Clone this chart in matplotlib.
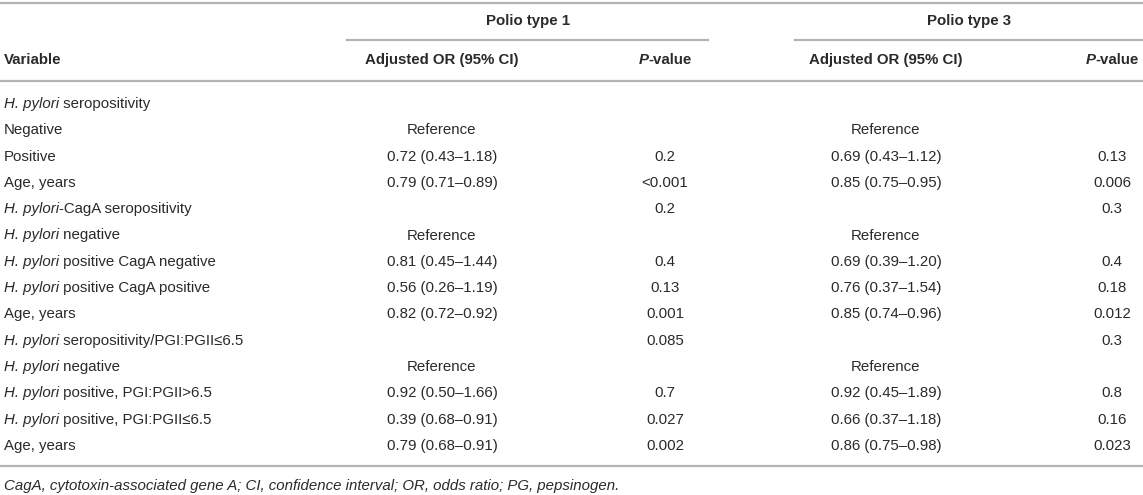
import matplotlib
matplotlib.use("Agg")
import matplotlib.pyplot as plt
from matplotlib.lines import Line2D

plt.rcParams['font.family'] = ['Liberation Sans', 'DejaVu Sans']

# table contents ("*...*" marks italic runs)
variables = [
    "*H. pylori* seropositivity",
    "Negative",
    "Positive",
    "Age, years",
    "*H. pylori*-CagA seropositivity",
    "*H. pylori* negative",
    "*H. pylori* positive CagA negative",
    "*H. pylori* positive CagA positive",
    "Age, years",
    "*H. pylori* seropositivity/PGI:PGII≤6.5",
    "*H. pylori* negative",
    "*H. pylori* positive, PGI:PGII>6.5",
    "*H. pylori* positive, PGI:PGII≤6.5",
    "Age, years",
]
or_type1 = ["", "Reference", "0.72 (0.43–1.18)", "0.79 (0.71–0.89)", "",
            "Reference", "0.81 (0.45–1.44)", "0.56 (0.26–1.19)", "0.82 (0.72–0.92)",
            "", "Reference", "0.92 (0.50–1.66)", "0.39 (0.68–0.91)", "0.79 (0.68–0.91)"]
p_type1 = ["", "", "0.2", "<0.001", "0.2", "", "0.4", "0.13", "0.001",
           "0.085", "", "0.7", "0.027", "0.002"]
or_type3 = ["", "Reference", "0.69 (0.43–1.12)", "0.85 (0.75–0.95)", "",
            "Reference", "0.69 (0.39–1.20)", "0.76 (0.37–1.54)", "0.85 (0.74–0.96)",
            "", "Reference", "0.92 (0.45–1.89)", "0.66 (0.37–1.18)", "0.86 (0.75–0.98)"]
p_type3 = ["", "", "0.13", "0.006", "0.3", "", "0.4", "0.18", "0.012",
           "0.3", "", "0.8", "0.16", "0.023"]
group_titles = ["Polio type 1", "Polio type 3"]
footnote = "CagA, cytotoxin-associated gene A; CI, confidence interval; OR, odds ratio; PG, pepsinogen."

W, H = 1143, 495
FS = 10.8
TXT = "#2a2a2a"
RULE = "#b4b4b4"

fig = plt.figure(figsize=(W / 100, H / 100), dpi=100)
ax = fig.add_axes([0, 0, 1, 1])
ax.set_xlim(0, W)
ax.set_ylim(H, 0)
ax.axis("off")
renderer = fig.canvas.get_renderer()


def runs_of(s):
    parts = s.split("*")
    return [(p, i % 2 == 1) for i, p in enumerate(parts) if p]


def put(x, y, s, ha="left", weight="normal", italic_all=False):
    runs = runs_of(s)
    widths = []
    for txt, it in runs:
        t = ax.text(0, 0, txt, fontsize=FS, weight=weight,
                    style="italic" if (it or italic_all) else "normal")
        widths.append(t.get_window_extent(renderer).width)
        t.remove()
    total = sum(widths)
    x0 = {"left": x, "center": x - total / 2, "right": x - total}[ha]
    for (txt, it), w in zip(runs, widths):
        ax.text(x0, y, txt, fontsize=FS, weight=weight, color=TXT,
                style="italic" if (it or italic_all) else "normal",
                ha="left", va="center")
        x0 += w


def rule(x0, x1, y):
    ax.add_line(Line2D([x0, x1], [y, y], color=RULE, lw=1.6))


# column centres
c_or1, c_p1, c_or3, c_p3 = 442, 665, 886, 1112

# rules
rule(0, W, 3)
rule(347, 708, 40)
rule(795, W, 40)
rule(0, W, 81)

# header
put(528, 21, group_titles[0], ha="center", weight="bold")
put(969, 21, group_titles[1], ha="center", weight="bold")
put(4, 60, "Variable", weight="bold")
put(c_or1, 60, "Adjusted OR (95% CI)", ha="center", weight="bold")
put(c_p1, 60, "*P*-value", ha="center", weight="bold")
put(c_or3, 60, "Adjusted OR (95% CI)", ha="center", weight="bold")
put(c_p3, 60, "*P*-value", ha="center", weight="bold")

# body
y0, dy = 104, 26.3
for i in range(len(variables)):
    y = y0 + i * dy
    put(4, y, variables[i])
    put(c_or1, y, or_type1[i], ha="center")
    put(c_p1, y, p_type1[i], ha="center")
    put(c_or3, y, or_type3[i], ha="center")
    put(c_p3, y, p_type3[i], ha="center")

last = y0 + (len(variables) - 1) * dy
rule(0, W, last + 20)
put(4, last + 40, footnote, italic_all=True)

fig.savefig("out.png", dpi=100)
